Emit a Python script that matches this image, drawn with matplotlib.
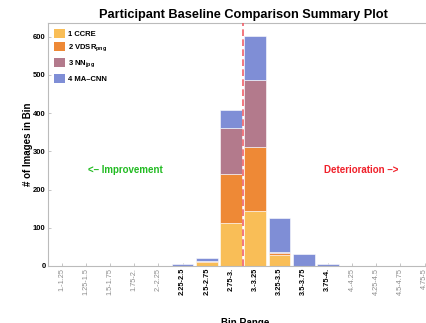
import numpy as np
import matplotlib
matplotlib.use("Agg")
import matplotlib.pyplot as plt
from matplotlib.patches import Patch

plt.rcParams['font.family'] = ['Liberation Sans', 'DejaVu Sans']
plt.rcParams['mathtext.fontset'] = 'custom'
plt.rcParams['mathtext.rm'] = 'Liberation Sans'
plt.rcParams['mathtext.bf'] = 'Liberation Sans:bold'

bins = ["1.-1.25", "1.25-1.5", "1.5-1.75", "1.75-2.", "2.-2.25", "2.25-2.5",
        "2.5-2.75", "2.75-3.", "3.-3.25", "3.25-3.5", "3.5-3.75", "3.75-4.",
        "4.-4.25", "4.25-4.5", "4.5-4.75", "4.75-5"]
ccre   = [0, 0, 0, 0, 0, 0, 11, 113, 144, 29, 0, 0, 0, 0, 0, 0]
vdsr   = [0, 0, 0, 0, 0, 0, 2, 127, 168, 5, 0, 0, 0, 0, 0, 0]
nn     = [0, 0, 0, 0, 0, 0, 1, 122, 174, 2, 0, 0, 0, 0, 0, 0]
macnn  = [0, 0, 0, 0, 0, 5, 8, 46, 117, 89, 32, 5, 0, 0, 0, 0]
series_names = ["1 CCRE", r"2 VDSR$_{\mathbf{png}}$", r"3 NN$_{\mathbf{jpg}}$", "4 MA\u2013CNN"]
colors = ["#F9BE57", "#EE8936", "#B37A8C", "#7F8ED6"]

W, H = 427, 323
fig = plt.figure(figsize=(W / 100, H / 100), dpi=100)
ax_l, ax_r, ax_b, ax_t = 47.7, 438, 266, 23
ax = fig.add_axes([ax_l / W, (H - ax_b) / H, (ax_r - ax_l) / W, (ax_b - ax_t) / H])

x = np.arange(len(bins))
bottom = np.zeros(len(bins))
for vals, c in zip([ccre, vdsr, nn, macnn], colors):
    v = np.array(vals, dtype=float)
    ax.bar(x, v, width=0.9, bottom=bottom, color=c, edgecolor="#ffffff",
           linewidth=0.4, zorder=2)
    bottom += v

ax.set_xlim(-0.57, 15.55)
ax.set_ylim(0, 636)
ax.axvline(7.5, color="#F0606A", linestyle=(0, (4, 2)), linewidth=1.2, zorder=3)

for s in ["left", "top", "right", "bottom"]:
    ax.spines[s].set_color("#BBBBBB")
    ax.spines[s].set_linewidth(0.8)

ax.set_yticks([0, 100, 200, 300, 400, 500, 600])
ax.set_yticklabels(["0", "100", "200", "300", "400", "500", "600"],
                   fontsize=5.5, fontweight="bold")
ax.set_xticks(x)
ax.set_xticklabels(bins, rotation=90, fontsize=5.3)
totals = bottom
for lab, t in zip(ax.get_xticklabels(), totals):
    if t > 0:
        lab.set_color("black")
        lab.set_fontweight("bold")
    else:
        lab.set_color("#8C8C8C")
ax.tick_params(axis="both", direction="in", length=2, width=0.6, color="#BBBBBB", pad=1.5)

fig.text(28.5 / W, 1 - 144 / H, "# of Images in Bin", rotation=90, fontsize=7,
         fontweight="bold", ha="center", va="center")
fig.text(245 / W, 1 - 318 / H, "Bin Range", fontsize=7, fontweight="bold",
         ha="center", va="top")
fig.text(243 / W, 1 - 15 / H, "Participant Baseline Comparison Summary Plot",
         fontsize=9.2, fontweight="bold", ha="center", va="center")

ax.text(2.62, 250, "<\u2013 Improvement", color="#22BB22", fontsize=7,
        fontweight="bold", ha="center", va="center")
ax.text(12.37, 250, "Deterioration \u2013>", color="#F0202A", fontsize=7,
        fontweight="bold", ha="center", va="center")

handles = [Patch(facecolor=c, edgecolor="none") for c in colors]
leg = ax.legend(handles, series_names, loc="upper left",
                bbox_to_anchor=(6.6 / (ax_r - ax_l), 1 - 6.3 / (ax_b - ax_t)),
                borderaxespad=0, borderpad=0, frameon=False,
                prop={"size": 5.5, "weight": "bold"},
                handlelength=1.4, handleheight=1.4, labelspacing=0.55,
                handletextpad=0.45)

fig.savefig("out.png", dpi=100)
